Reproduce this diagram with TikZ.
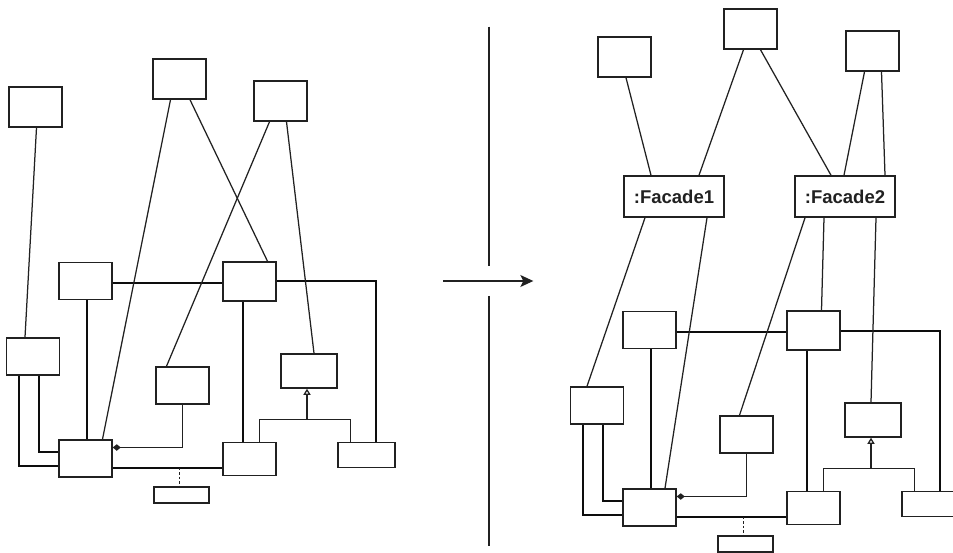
\documentclass[tikz,border=0pt]{standalone}
\usepackage{fontspec}
\newfontfamily\facadefont{Liberation Sans}
\usetikzlibrary{arrows.meta,calc}
\definecolor{ink}{gray}{0.13}
\definecolor{heavyink}{gray}{0.05}
\tikzset{
  box/.style={draw=ink, line width=1.5pt, inner sep=0pt, fill=white},
  conn/.style={draw=ink, line width=1.25pt},
  heavy/.style={draw=heavyink, line width=2pt},
  facade/.style={box, minimum width=100pt, minimum height=41pt, font=\facadefont\bfseries\fontsize{18.5}{20}\selectfont, text=ink}
}
\newcommand\lowerpart[1]{%
  \node[box, minimum width=53pt, minimum height=37pt] (#1E) at (85.5,281) {};
  \node[box, minimum width=53pt, minimum height=39pt] (#1G) at (249.5,281.5) {};
  \node[box, minimum width=53pt, minimum height=37pt] (#1D) at (33,356.5) {};
  \node[box, minimum width=53pt, minimum height=37pt] (#1H) at (182.5,385.5) {};
  \node[box, minimum width=56pt, minimum height=34pt] (#1I) at (309,371) {};
  \node[box, minimum width=53pt, minimum height=37pt] (#1F) at (85.5,458.5) {};
  \node[box, minimum width=53pt, minimum height=33pt] (#1J) at (249.5,459) {};
  \node[box, minimum width=57pt, minimum height=25pt] (#1K) at (366.5,455) {};
  \node[box, minimum width=55pt, minimum height=16pt] (#1L) at (181.5,495) {};
  % associations
  \draw[heavy, line width=1.6pt] ([yshift=-2pt]#1E.east) -- ([yshift=-2pt]#1E.east -| #1G.west);
  \draw[heavy] (#1G.east) -| ([xshift=9.5pt]#1K.north);
  \draw[heavy, line width=1.8pt] ([xshift=1.5pt]#1E.south) -- ([xshift=1.5pt]#1E.south |- #1F.north);
  \draw[heavy] ([xshift=-7pt]#1G.south) -- ([xshift=-7pt]#1G.south |- #1J.north);
  \draw[heavy] ([xshift=-14pt]#1D.south) |- ([yshift=-7pt]#1F.west);
  \draw[heavy] ([xshift=6pt]#1D.south) |- ([yshift=7pt]#1F.west);
  \draw[heavy] ([yshift=-9pt]#1F.east) -- ([yshift=-9pt]#1F.east -| #1J.west);
  \coordinate (#1Lt) at ([xshift=-2pt]#1L.north);
  \coordinate (#1Fr) at ([yshift=-9pt]#1F.east);
  \coordinate (#1dot) at (#1Fr -| #1Lt);
  \draw[conn, line width=1.4pt, dash pattern=on 2.5pt off 2pt] (#1dot) -- (#1Lt);
  % composition
  \draw[conn, -{Diamond[length=8pt,width=6.5pt]}] (#1H.south) |- ([yshift=11pt]#1F.east);
  % generalization
  \coordinate (#1gen) at ([xshift=-2pt,yshift=-31pt]#1I.south);
  \draw[conn] ([xshift=10pt]#1J.north) |- (#1gen) -| ([xshift=-16pt]#1K.north);
  \draw[conn, -{Triangle[open,length=6pt,width=7pt]}] (#1gen) -- (#1gen |- #1I.south);
}
\begin{document}
\begin{tikzpicture}[x=1pt,y=-1pt]
\clip (0,0) rectangle (953,553);
\fill[white] (0,0) rectangle (953,553);
% ---------- left diagram ----------
\node[box, minimum width=53pt, minimum height=40pt] (A) at (35.5,107) {};
\node[box, minimum width=53pt, minimum height=40pt] (B) at (179.5,79) {};
\node[box, minimum width=53pt, minimum height=40pt] (C) at (280.5,101) {};
\lowerpart{l}
\draw[conn] ([xshift=1pt]A.south) -- ([xshift=-8pt]lD.north);
\draw[conn] ([xshift=-9pt]B.south) -- ([xshift=17pt]lF.north);
\draw[conn] ([xshift=10.5pt]B.south) -- ([xshift=18pt]lG.north);
\draw[conn] ([xshift=-11pt]C.south) -- ([xshift=-16pt]lH.north);
\draw[conn] ([xshift=6pt]C.south) -- ([xshift=5pt]lI.north);
% ---------- separator and arrow ----------
\coordinate (s1) at (489,26.7);
\coordinate (s2) at (489,265.7);
\coordinate (s3) at (489,296);
\coordinate (s4) at (489,545.7);
\coordinate (a1) at (443.3,281);
\coordinate (a2) at (533.3,281);
\draw[conn] (s1) -- (s2);
\draw[conn] (s3) -- (s4);
\draw[conn, -{Stealth[length=13pt,width=12pt,inset=3pt]}] (a1) -- (a2);
% ---------- right diagram ----------
\node[box, minimum width=53pt, minimum height=40pt] (P1) at (624.5,57) {};
\node[box, minimum width=53pt, minimum height=40pt] (P2) at (750.5,29) {};
\node[box, minimum width=53pt, minimum height=40pt] (P3) at (872.5,51) {};
\node[facade] (Fa1) at (674,196.5) {:Facade1};
\node[facade] (Fa2) at (845,196.5) {:Facade2};
\begin{scope}[shift={(564,49)}]
\lowerpart{r}
\end{scope}
\draw[conn] ([xshift=1.5pt]P1.south) -- ([xshift=-23pt]Fa1.north);
\draw[conn] ([xshift=-7pt]P2.south) -- ([xshift=25pt]Fa1.north);
\draw[conn] ([xshift=10pt]P2.south) -- ([xshift=-14pt]Fa2.north);
\draw[conn] ([xshift=-8pt]P3.south) -- ([xshift=-1pt]Fa2.north);
\draw[conn] ([xshift=9pt]P3.south) -- ([xshift=40pt]Fa2.north);
\draw[conn] ([xshift=-29pt]Fa1.south) -- ([xshift=-10pt]rD.north);
\draw[conn] ([xshift=33pt]Fa1.south) -- ([xshift=15.5pt]rF.north);
\draw[conn] ([xshift=-40pt]Fa2.south) -- ([xshift=-7pt]rH.north);
\draw[conn] ([xshift=-21pt]Fa2.south) -- ([xshift=8pt]rG.north);
\draw[conn] ([xshift=31pt]Fa2.south) -- ([xshift=-2pt]rI.north);
\end{tikzpicture}
\end{document}
